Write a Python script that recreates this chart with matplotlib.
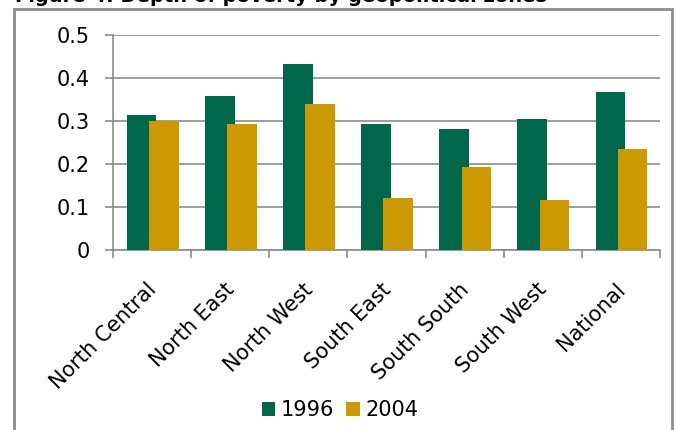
import matplotlib.pyplot as plt
import matplotlib.transforms as mtransforms
from matplotlib.patches import Rectangle
import numpy as np

plt.rcParams['font.family'] = ['DejaVu Sans']

# data
zones = ['North Central', 'North East', 'North West', 'South East',
         'South South', 'South West', 'National']
depth_1996 = [0.314, 0.359, 0.433, 0.293, 0.281, 0.305, 0.368]
depth_2004 = [0.300, 0.293, 0.339, 0.120, 0.192, 0.116, 0.236]
series_labels = ['1996', '2004']

green = '#00674A'
gold = '#CC9900'
grey = '#8C8C8C'
fs = 15

fig = plt.figure(figsize=(6.78, 4.30), dpi=100)
ax = fig.add_axes([113/678, 1 - 250/430, (660 - 113)/678, 215/430])

x = np.arange(len(zones))
w = 0.38
ax.bar(x - 0.135, depth_1996, width=w, color=green, label=series_labels[0], zorder=3)
ax.bar(x + 0.15, depth_2004, width=w, color=gold, label=series_labels[1], zorder=4)

ax.set_xlim(-0.5, len(zones) - 0.5)
ax.set_ylim(0, 0.5)
ax.set_yticks([0, 0.1, 0.2, 0.3, 0.4, 0.5])
ax.set_yticklabels(['0', '0.1', '0.2', '0.3', '0.4', '0.5'])
ax.yaxis.grid(True, color=grey, linewidth=1.2, zorder=0)
ax.tick_params(axis='y', length=6, width=1.2, color=grey, labelsize=fs, pad=11)

# category boundaries as tick marks, labels at centres
ax.set_xticks(x)
ax.set_xticks(np.arange(-0.5, len(zones)), minor=True)
ax.tick_params(axis='x', which='major', length=0, pad=21)
ax.tick_params(axis='x', which='minor', length=6, width=1.2, color=grey)
ax.set_xticklabels(zones, rotation=45, ha='right', fontsize=fs)
shift = mtransforms.ScaledTranslation(8/100, 0, fig.dpi_scale_trans)
for lbl in ax.get_xticklabels():
    lbl.set_transform(lbl.get_transform() + shift)

for side in ['top', 'right']:
    ax.spines[side].set_visible(False)
ax.spines['left'].set_color(grey)
ax.spines['left'].set_linewidth(1.2)
ax.spines['bottom'].set_color(grey)
ax.spines['bottom'].set_linewidth(1.2)

fig.legend(loc='center', bbox_to_anchor=(340/678, 1 - 410/430), ncol=2,
           frameon=False, fontsize=fs, handlelength=0.65, handleheight=0.65,
           handletextpad=0.25, columnspacing=0.6)

# chart frame and clipped caption above it
fig.add_artist(Rectangle((14/678, -0.1), (672 - 14)/678, 1.1 - 9/430,
                         transform=fig.transFigure, fill=False,
                         edgecolor=grey, linewidth=2))
fig.text(15/678, 1 - 2/430, 'Figure 4: Depth of poverty by geopolitical zones',
         fontsize=14, fontweight='bold', va='baseline', ha='left')

fig.savefig('out.png', dpi=100)
